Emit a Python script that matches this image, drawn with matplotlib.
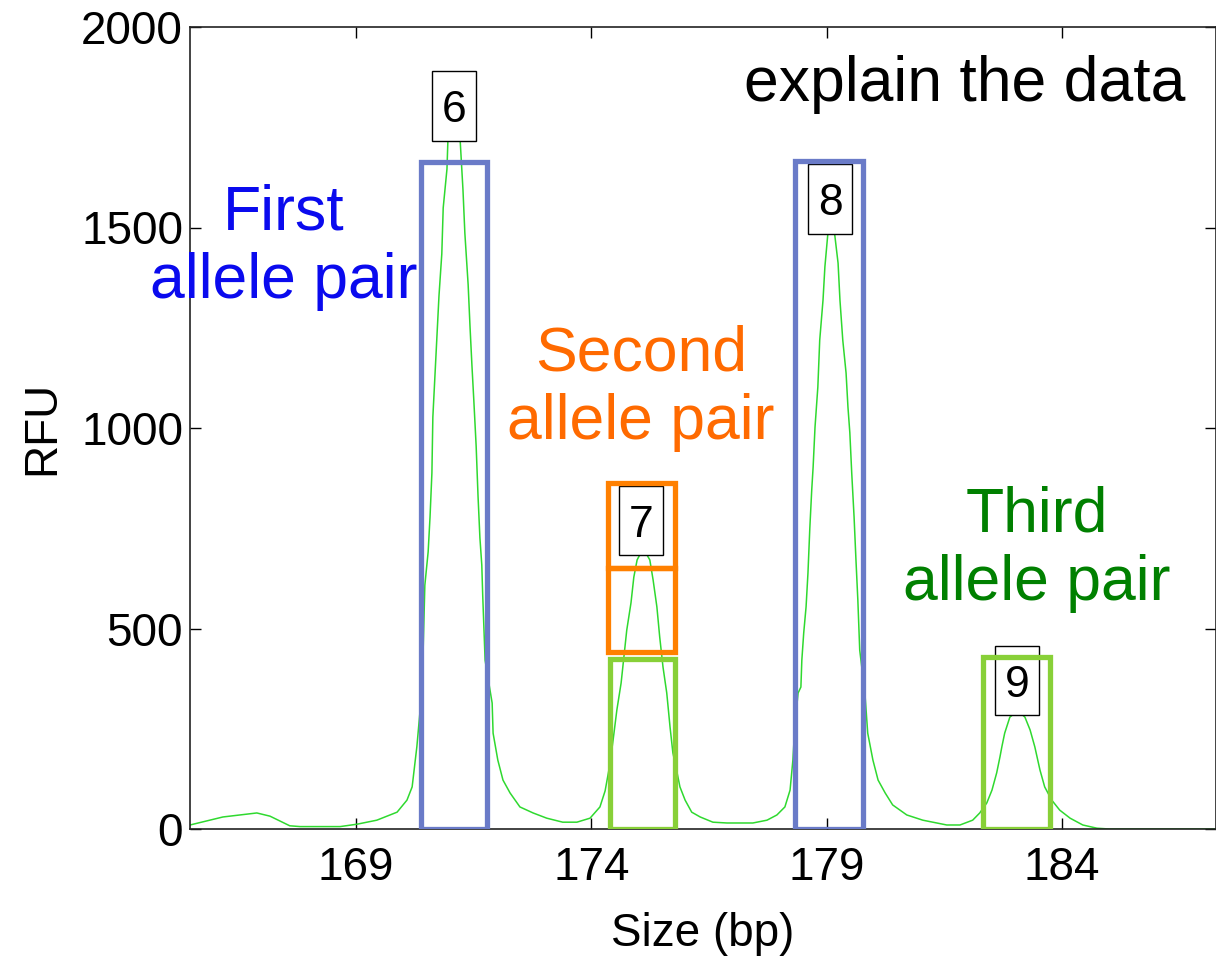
import numpy as np
import matplotlib
matplotlib.use('Agg')
import matplotlib.pyplot as plt
from matplotlib.patches import Rectangle
from matplotlib.path import Path

plt.rcParams['font.family'] = ['Liberation Sans', 'DejaVu Sans']

# electropherogram trace (size in bp, signal in RFU)
size_bp = [165.47, 166.17, 166.89, 167.17, 167.59, 167.81, 168.66, 169.02, 169.44, 169.87,
           170.08, 170.19, 170.29, 170.36, 170.42, 170.46, 170.53, 170.57, 170.61, 170.63,
           170.68, 170.72, 170.76, 170.82, 170.85, 170.93, 170.95, 171.08, 171.21, 171.27,
           171.31, 171.38, 171.42, 171.46, 171.50, 171.55, 171.59, 171.63, 171.67, 171.69,
           171.71, 171.74, 171.89, 171.91, 172.01, 172.12, 172.27, 172.48, 172.76, 173.05,
           173.39, 173.69, 173.97, 174.18, 174.29, 174.39, 174.46, 174.54, 174.63, 174.69,
           174.75, 174.84, 174.90, 174.97, 175.10, 175.24, 175.31, 175.39, 175.45, 175.52,
           175.60, 175.67, 175.73, 175.82, 175.88, 175.99, 176.13, 176.31, 176.58, 176.88,
           177.43, 177.73, 177.94, 178.11, 178.22, 178.28, 178.32, 178.39, 178.45, 178.47,
           178.51, 178.56, 178.60, 178.64, 178.68, 178.71, 178.75, 178.81, 178.85, 178.92,
           178.96, 179.02, 179.10, 179.17, 179.24, 179.28, 179.34, 179.41, 179.45, 179.49,
           179.53, 179.58, 179.62, 179.66, 179.70, 179.81, 179.87, 179.98, 180.09, 180.24,
           180.40, 180.70, 181.04, 181.55, 181.83, 182.10, 182.25, 182.40, 182.51, 182.61,
           182.68, 182.72, 182.78, 182.89, 183.06, 183.21, 183.32, 183.42, 183.53, 183.63,
           183.78, 183.95, 184.17, 184.44, 184.74, 185.00, 187.27]
rfu = [10, 30, 40, 32, 8, 6, 6, 12, 22, 42,
       72, 105, 205, 297, 429, 608, 691, 778, 888, 1027,
       1142, 1232, 1329, 1434, 1549, 1646, 1718, 1740, 1718, 1594,
       1486, 1357, 1252, 1157, 1070, 955, 830, 726, 658, 581,
       514, 421, 314, 239, 172, 122, 90, 55, 40, 27,
       17, 17, 27, 55, 95, 160, 222, 297, 364, 429,
       496, 564, 628, 671, 700, 671, 621, 554, 479, 404,
       339, 254, 190, 140, 105, 72, 42, 30, 17, 15,
       15, 22, 35, 55, 97, 172, 254, 339, 354, 421,
       489, 554, 638, 751, 845, 903, 1002, 1102, 1219, 1319,
       1402, 1481, 1500, 1481, 1411, 1319, 1219, 1137, 1052, 988,
       888, 778, 671, 571, 446, 339, 239, 172, 122, 90,
       60, 35, 22, 10, 10, 22, 40, 65, 97, 140,
       180, 205, 239, 279, 295, 279, 247, 205, 147, 105,
       72, 47, 27, 10, 2, 0, 0]

# allele calls
allele_names = ['6', '7', '8', '9']
allele_pos = [171.08, 175.05, 179.07, 183.04]
allele_top = [1716, 683, 1484, 284]

# highlight boxes: x0, x1, y0, y1
box_x0 = [170.37, 178.33, 174.35, 174.35, 174.39, 182.32]
box_x1 = [171.79, 179.78, 175.78, 175.78, 175.78, 183.75]
box_y0 = [0, 0, 652, 441, 0, 0]
box_y1 = [1663, 1666, 864, 652, 424, 428]
box_col = ['#6a7bc8', '#6a7bc8', '#ff8000', '#ff8000', '#88d038', '#88d038']

# text notes
note_text = ['First\nallele pair', 'Second\nallele pair', 'Third\nallele pair']
note_x = [167.47, 175.05, 183.46]
note_y = [1451, 1100, 697]
note_col = ['#0a0aee', '#ff6a00', '#008000']


def tall_box(x0, y0, width, height, mutation_size):
    # narrow, tall tag box like the peak labels of the analysis software
    px = 0.22 * mutation_size
    pb, pt = 0.21 * mutation_size, 0.43 * mutation_size
    x0, x1 = x0 - px, x0 + width + px
    y0, y1 = y0 - pb, y0 + height + pt
    return Path([(x0, y0), (x1, y0), (x1, y1), (x0, y1), (x0, y0)], closed=True)


fig = plt.figure(figsize=(12.16, 9.57), dpi=100)
ax = fig.add_axes([190 / 1216, 1 - 829 / 957, 1026 / 1216, 802 / 957])

ax.plot(size_bp, rfu, color='#2fd92f', lw=1.1, zorder=2)

for name, x, top in zip(allele_names, allele_pos, allele_top):
    ax.annotate(name, xy=(x, top), xytext=(0, 6.8), textcoords='offset points',
                ha='center', va='bottom', fontsize=32, zorder=3,
                bbox=dict(boxstyle=tall_box, fc='white', ec='black', lw=1))

for x0, x1, y0, y1, c in zip(box_x0, box_x1, box_y0, box_y1, box_col):
    ax.add_patch(Rectangle((x0, y0), x1 - x0, y1 - y0, fill=False, ec=c, lw=3.8, zorder=4))

for t, x, y, c in zip(note_text, note_x, note_y, note_col):
    ax.text(x, y, t, color=c, fontsize=45, ha='center', va='center', zorder=5)
ax.text(181.94, 1815, 'explain the data', color='black', fontsize=45,
        ha='center', va='baseline', zorder=5)

ax.set_xlim(165.47, 187.27)
ax.set_ylim(0, 2000)
ax.set_xticks([169, 174, 179, 184])
ax.set_yticks([0, 500, 1000, 1500, 2000])
ax.tick_params(direction='in', length=8, width=1, labelsize=33,
               top=True, right=True)
ax.tick_params(axis='x', pad=12)
ax.tick_params(axis='y', pad=5)
ax.set_xlabel('Size (bp)', fontsize=33, labelpad=16)
ax.set_ylabel('RFU', fontsize=33, labelpad=12)
for s in ax.spines.values():
    s.set_linewidth(1.2)
    s.set_color('#222222')

fig.savefig('out.png', dpi=100)
